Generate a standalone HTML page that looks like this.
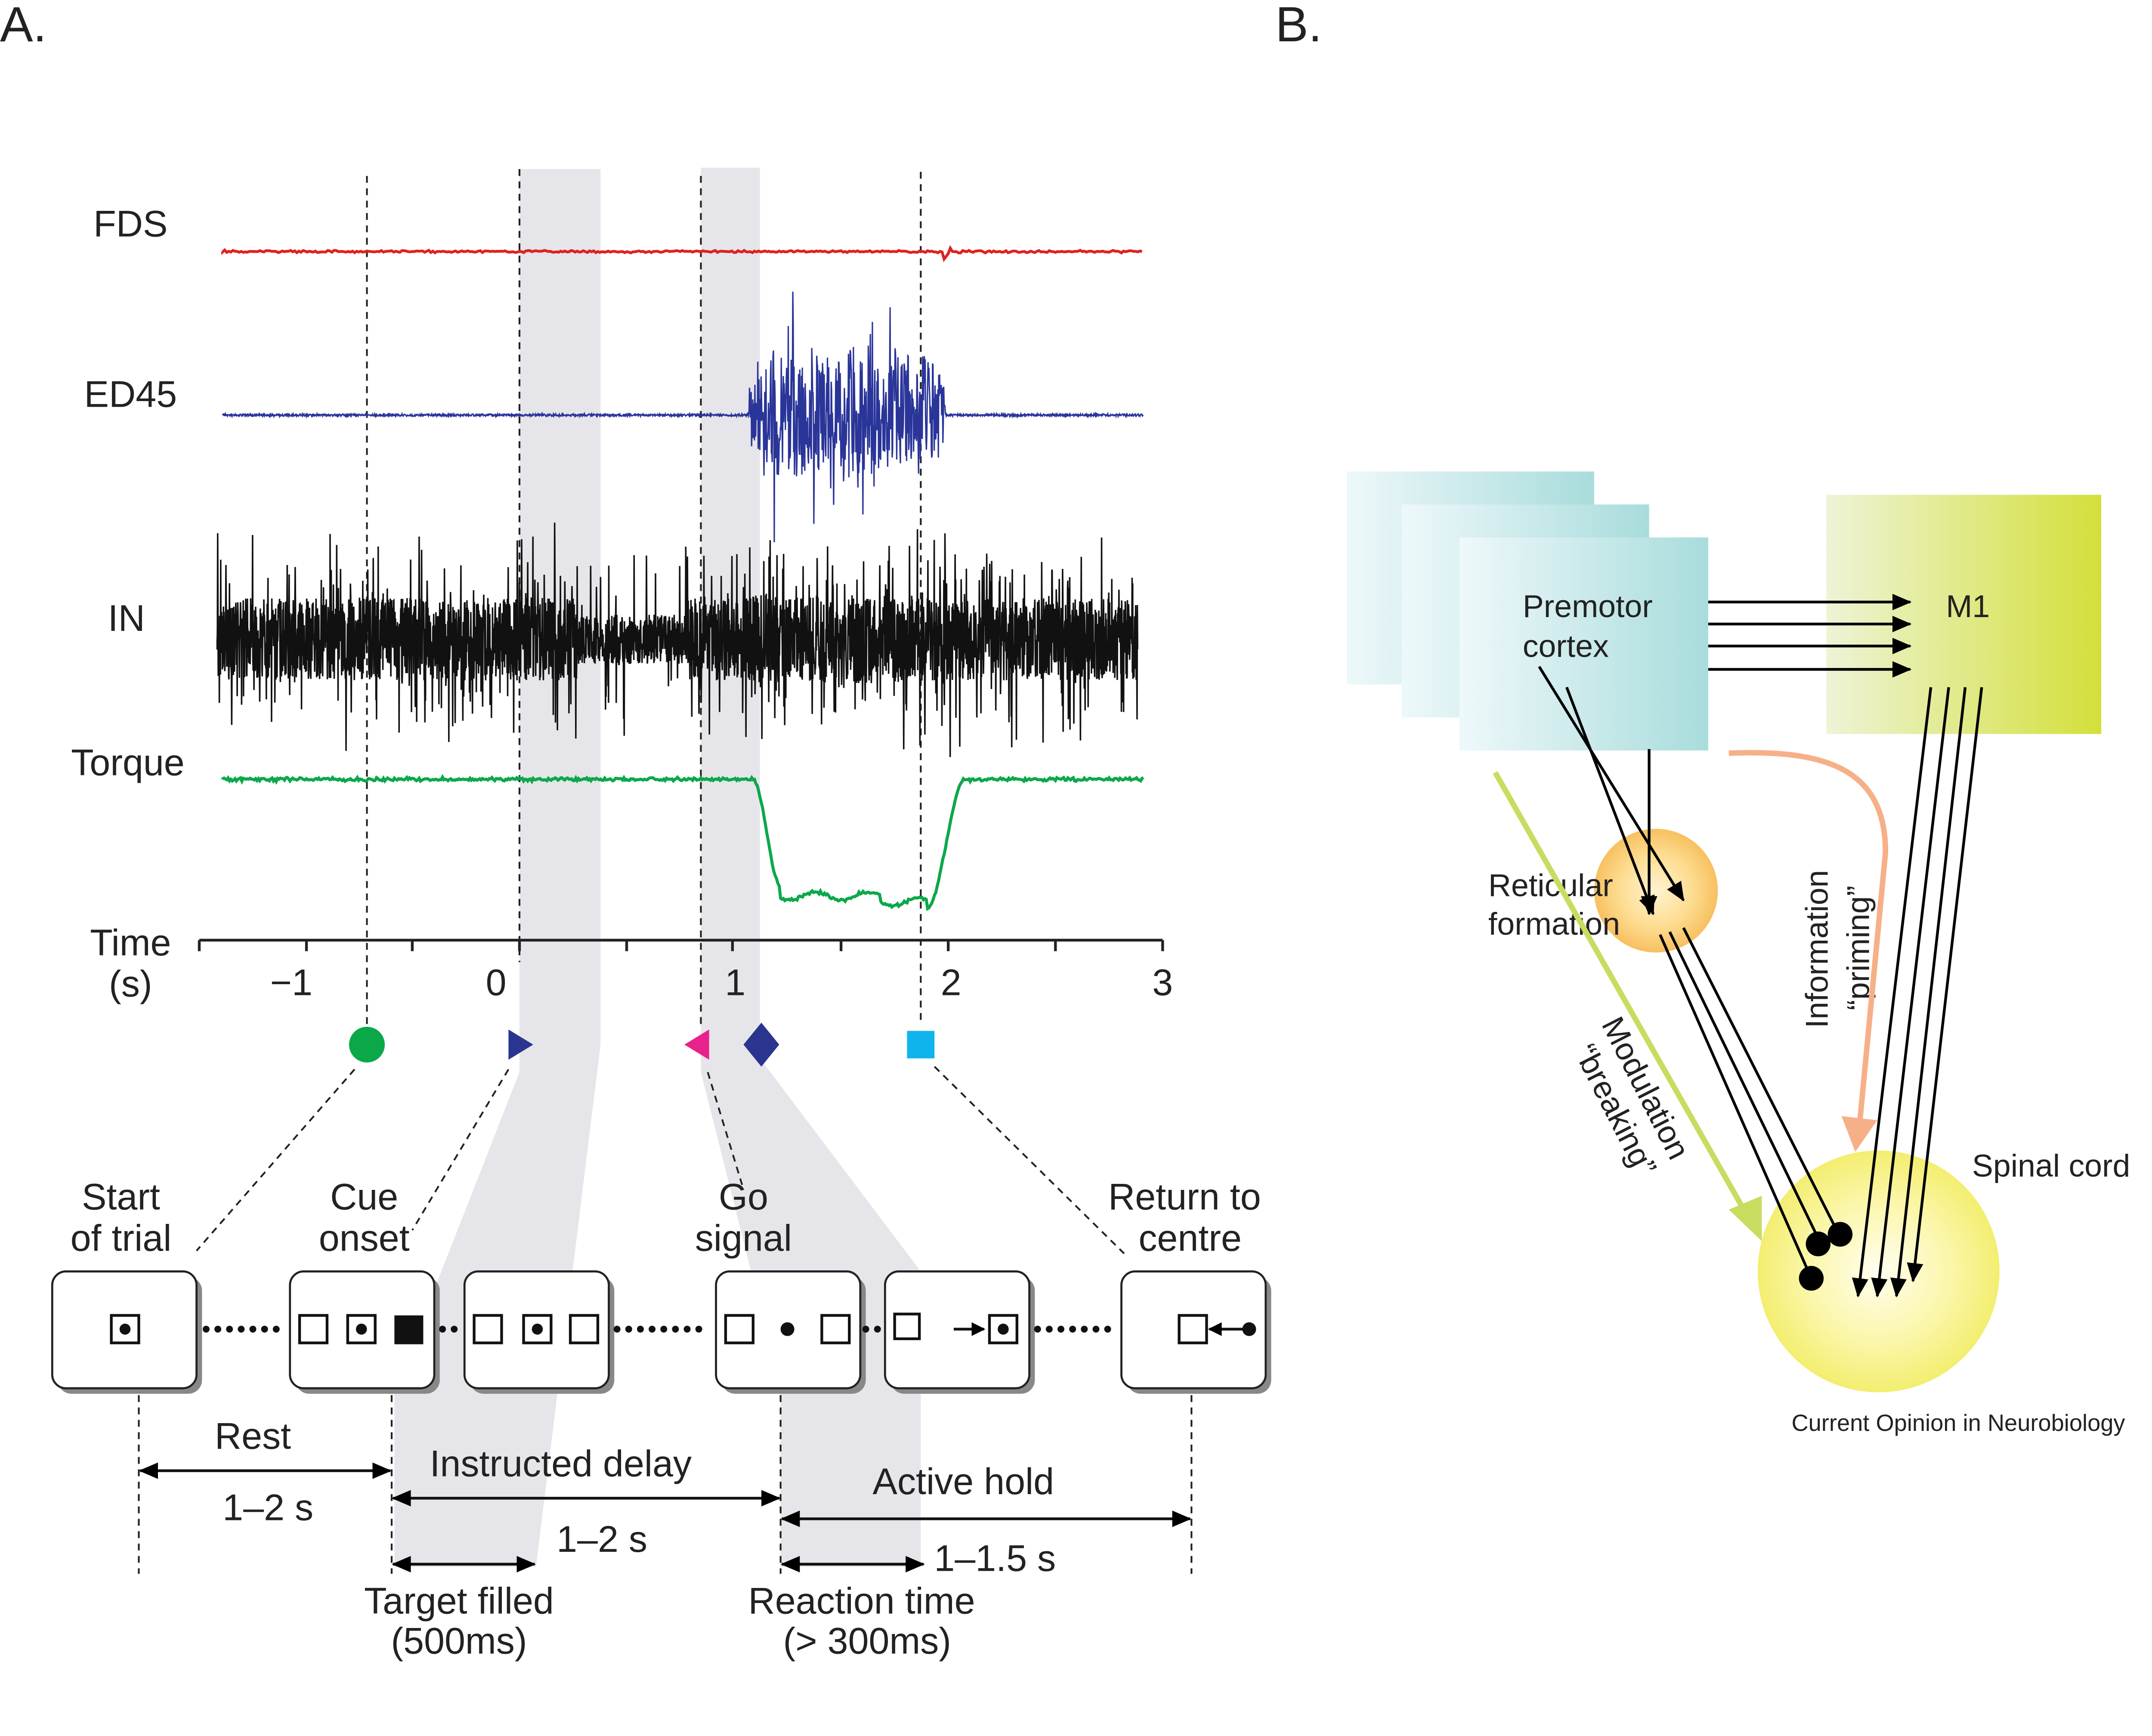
<!DOCTYPE html>
<html><head><meta charset="utf-8">
<style>
html,body{margin:0;padding:0;background:#fff;width:5195px;height:4034px;overflow:hidden}
svg{display:block}
text{font-family:"Liberation Sans",Arial,sans-serif;fill:#222}
</style></head><body>
<svg id="s" width="5195" height="4034" viewBox="0 0 1627 1263" preserveAspectRatio="none" xmlns="http://www.w3.org/2000/svg">
<defs>
<linearGradient id="cy" x1="0" x2="1" y1="0" y2="0"><stop offset="0" stop-color="#eef8fa"/><stop offset="1" stop-color="#a9dcdc"/></linearGradient>
<linearGradient id="m1" x1="0" x2="1" y1="0" y2="0"><stop offset="0" stop-color="#eef3d6"/><stop offset="1" stop-color="#d3e03a"/></linearGradient>
<radialGradient id="rf"><stop offset="0" stop-color="#fff3d0"/><stop offset="0.6" stop-color="#fddc90"/><stop offset="1" stop-color="#f7c060"/></radialGradient>
<radialGradient id="sc"><stop offset="0" stop-color="#fffef0"/><stop offset="0.6" stop-color="#fbf6a8"/><stop offset="1" stop-color="#f3ee70"/></radialGradient>
<marker id="ah" markerWidth="10" markerHeight="10" refX="9" refY="5" orient="auto" markerUnits="userSpaceOnUse"><path d="M0,0 L10,5 L0,10 z" fill="#000"/></marker>
<marker id="ah2" markerWidth="14" markerHeight="12" refX="13" refY="6" orient="auto-start-reverse" markerUnits="userSpaceOnUse"><path d="M0,0 L14,6 L0,12 z" fill="#000"/></marker>
</defs>
<text x="0" y="30" font-size="36">A.</text>
<text x="928" y="30" font-size="36">B.</text>
<polygon points="378,123 437,123 437,760 390,1140 287,1140 287,1012 378,780" fill="#e6e6ea"/>
<polygon points="510,122 553,122 553,770 670,925 670,1140 568,1140 568,1010 510,780" fill="#e6e6ea"/>
<g stroke="#222" stroke-width="1.3" stroke-dasharray="5,4" fill="none">
<line x1="267" y1="128" x2="267" y2="745"/><line x1="378" y1="123" x2="378" y2="700"/>
<line x1="510" y1="128" x2="510" y2="745"/><line x1="670" y1="125" x2="670" y2="745"/>
<line x1="258" y1="778" x2="143" y2="910"/><line x1="370" y1="778" x2="300" y2="895"/>
<line x1="515" y1="780" x2="540" y2="862"/><line x1="680" y1="776" x2="818" y2="912"/>
<line x1="101" y1="1015" x2="101" y2="1145"/><line x1="285" y1="1015" x2="285" y2="1145"/>
<line x1="568" y1="1015" x2="568" y2="1145"/><line x1="867" y1="1015" x2="867" y2="1145"/>
</g>
<g font-size="27" text-anchor="middle">
<text x="95" y="172">FDS</text><text x="95" y="296">ED45</text><text x="92" y="459">IN</text><text x="93" y="564">Torque</text>
<text x="95" y="695">Time</text><text x="95" y="725">(s)</text>
<text x="212" y="724">−1</text><text x="361" y="724">0</text><text x="535" y="724">1</text><text x="692" y="724">2</text><text x="846" y="724">3</text>
</g>
<g id="sig"></g>
<g stroke="#222" stroke-width="2"><line x1="145" y1="684" x2="846" y2="684"/>
<line x1="145" y1="684" x2="145" y2="692"/><line x1="223" y1="684" x2="223" y2="692"/><line x1="300" y1="684" x2="300" y2="692"/><line x1="378" y1="684" x2="378" y2="692"/><line x1="456" y1="684" x2="456" y2="692"/><line x1="533" y1="684" x2="533" y2="692"/><line x1="612" y1="684" x2="612" y2="692"/><line x1="690" y1="684" x2="690" y2="692"/><line x1="768" y1="684" x2="768" y2="692"/><line x1="846" y1="684" x2="846" y2="692"/></g>
<circle cx="267" cy="760" r="13" fill="#0ba84a"/>
<polygon points="370,749 388,760 370,771" fill="#2a3590"/>
<polygon points="516,749 498,760 516,771" fill="#e8228a"/>
<polygon points="554,744 567,760 554,776 541,760" fill="#2a3590"/>
<rect x="660" y="750" width="20" height="20" fill="#10b4ec"/>
<g font-size="27" text-anchor="middle">
<text x="88" y="880">Start</text><text x="88" y="910">of trial</text>
<text x="265" y="880">Cue</text><text x="265" y="910">onset</text>
<text x="541" y="880">Go</text><text x="541" y="910">signal</text>
<text x="862" y="880">Return to</text><text x="866" y="910">centre</text>
</g>
<g>
<g fill="#888"><rect x="42" y="929" width="105" height="85" rx="10"/><rect x="215" y="929" width="105" height="85" rx="10"/><rect x="342" y="929" width="105" height="85" rx="10"/><rect x="525" y="929" width="105" height="85" rx="10"/><rect x="648" y="929" width="105" height="85" rx="10"/><rect x="820" y="929" width="105" height="85" rx="10"/></g>
<g fill="#fff" stroke="#222" stroke-width="1.5"><rect x="38" y="925" width="105" height="85" rx="10"/><rect x="211" y="925" width="105" height="85" rx="10"/><rect x="338" y="925" width="105" height="85" rx="10"/><rect x="521" y="925" width="105" height="85" rx="10"/><rect x="644" y="925" width="105" height="85" rx="10"/><rect x="816" y="925" width="105" height="85" rx="10"/></g>
<g fill="none" stroke="#111" stroke-width="2">
<rect x="81" y="957" width="20" height="20"/><rect x="218" y="957" width="20" height="20"/><rect x="253" y="957" width="20" height="20"/>
<rect x="345" y="957" width="20" height="20"/><rect x="381" y="957" width="20" height="20"/><rect x="415" y="957" width="20" height="20"/>
<rect x="528" y="957" width="20" height="20"/><rect x="598" y="957" width="20" height="20"/>
<rect x="651" y="956" width="18" height="18"/><rect x="720" y="957" width="20" height="20"/><rect x="858" y="957" width="20" height="20"/>
<line x1="694" y1="967" x2="716" y2="967" marker-end="url(#ah)"/><line x1="906" y1="967" x2="880" y2="967" marker-end="url(#ah)"/>
</g>
<rect x="287" y="957" width="21" height="21" fill="#111"/>
<g fill="#111"><circle cx="91" cy="967" r="4"/><circle cx="263" cy="967" r="4"/><circle cx="391" cy="967" r="4"/><circle cx="573" cy="967" r="5"/><circle cx="730" cy="967" r="4"/><circle cx="909" cy="967" r="5"/></g>
<g stroke="#111" stroke-width="5" stroke-linecap="round" stroke-dasharray="0,8.5"><line x1="150" y1="967" x2="206" y2="967"/><line x1="322" y1="967" x2="334" y2="967"/><line x1="449" y1="967" x2="516" y2="967"/><line x1="630" y1="967" x2="640" y2="967"/><line x1="755" y1="967" x2="812" y2="967"/></g>
</g>
<g stroke="#111" stroke-width="2" fill="none">
<line x1="102" y1="1070" x2="284" y2="1070" marker-start="url(#ah2)" marker-end="url(#ah2)"/>
<line x1="286" y1="1090" x2="567" y2="1090" marker-start="url(#ah2)" marker-end="url(#ah2)"/>
<line x1="286" y1="1138" x2="389" y2="1138" marker-start="url(#ah2)" marker-end="url(#ah2)"/>
<line x1="569" y1="1105" x2="866" y2="1105" marker-start="url(#ah2)" marker-end="url(#ah2)"/>
<line x1="569" y1="1138" x2="672" y2="1138" marker-start="url(#ah2)" marker-end="url(#ah2)"/>
</g>
<g font-size="27" text-anchor="middle">
<text x="184" y="1054">Rest</text><text x="195" y="1106">1–2 s</text>
<text x="408" y="1074">Instructed delay</text><text x="438" y="1129">1–2 s</text>
<text x="334" y="1174">Target filled</text><text x="334" y="1203">(500ms)</text>
<text x="701" y="1087">Active hold</text><text x="724" y="1143">1–1.5 s</text>
<text x="627" y="1174">Reaction time</text><text x="631" y="1203">(&gt; 300ms)</text>
</g>
<rect x="980" y="343" width="180" height="155" fill="url(#cy)"/>
<rect x="1020" y="367" width="180" height="155" fill="url(#cy)"/>
<rect x="1062" y="391" width="181" height="155" fill="url(#cy)"/>
<rect x="1329" y="360" width="200" height="174" fill="url(#m1)"/>
<circle cx="1205" cy="648" r="45" fill="url(#rf)"/>
<circle cx="1367" cy="925" r="88" fill="url(#sc)"/>
<g font-size="23">
<text x="1108" y="449">Premotor</text><text x="1108" y="478">cortex</text>
<text x="1416" y="449">M1</text>
<text x="1083" y="652">Reticular</text><text x="1083" y="680">formation</text>
<text x="1435" y="856">Spinal cord</text>
<text x="1425" y="1041" font-size="17" text-anchor="middle">Current Opinion in Neurobiology</text>
<text transform="translate(1330,748) rotate(-90)">Information</text>
<text transform="translate(1360,735) rotate(-90)">“priming”</text>
<text transform="translate(1165,745) rotate(63)">Modulation</text>
<text transform="translate(1145,765) rotate(63)">“breaking”</text>
</g>
<path d="M1258,548 C1330,545 1372,560 1372,620 L1352,830" fill="none" stroke="#f6b088" stroke-width="4"/>
<polygon points="1340,812 1366,815 1350,838" fill="#f6b088"/>
<line x1="1088" y1="562" x2="1270" y2="882" stroke="#c8dc60" stroke-width="4"/>
<polygon points="1258,880 1282,870 1282,903" fill="#c8dc60"/>
<g stroke="#000" stroke-width="2" fill="none">
<line x1="1243" y1="438" x2="1390" y2="438" marker-end="url(#ah2)"/>
<line x1="1243" y1="454" x2="1390" y2="454" marker-end="url(#ah2)"/>
<line x1="1243" y1="470" x2="1390" y2="470" marker-end="url(#ah2)"/>
<line x1="1243" y1="487" x2="1390" y2="487" marker-end="url(#ah2)"/>
<line x1="1120" y1="485" x2="1225" y2="655" marker-end="url(#ah2)"/>
<line x1="1140" y1="500" x2="1203" y2="665" marker-end="url(#ah2)"/>
<line x1="1200" y1="545" x2="1200" y2="665" marker-end="url(#ah2)"/>
<line x1="1208" y1="680" x2="1318" y2="930"/>
<line x1="1215" y1="678" x2="1325" y2="905"/>
<line x1="1225" y1="675" x2="1338" y2="898"/>
<line x1="1405" y1="500" x2="1352" y2="943" marker-end="url(#ah2)"/>
<line x1="1418" y1="500" x2="1366" y2="943" marker-end="url(#ah2)"/>
<line x1="1430" y1="500" x2="1380" y2="943" marker-end="url(#ah2)"/>
<line x1="1442" y1="500" x2="1392" y2="932" marker-end="url(#ah2)"/>
</g>
<g fill="#000"><circle cx="1318" cy="930" r="9"/><circle cx="1323" cy="905" r="9"/><circle cx="1339" cy="898" r="9"/></g>
</svg>
<script>
(function(){
var seed=12345;function r(){seed=(seed*16807)%2147483647;return seed/2147483647;}
function g(){return (r()+r()+r()-1.5);}
var out="";
var d="M162,183";for(var x=162;x<=832;x+=1.5){var a=0.8;if(x>686&&x<692)a=6;d+=" L"+x+","+(183+g()*a).toFixed(1);}
out+='<path d="'+d+'" stroke="#e02020" stroke-width="2" fill="none"/>';
d="M162,302";for(x=162;x<=832;x+=0.3){var a=0.8;if(x>545&&x<688){a=30+r()*25;if(r()<0.08)a=70+r()*30;if(x<556||x>680)a*=0.6;}d+=" L"+x.toFixed(1)+","+(302+(r()*2-1)*a).toFixed(1);}
out+='<path d="'+d+'" stroke="#2a3599" stroke-width="1" fill="none"/>';
d="M158,465";for(x=158;x<=828;x+=0.2){var a=30;var sp=0.16;if(x>420&&x<500){a=18;sp=0.08;}if(x>540&&x<690){a=32;sp=0.2;}if(r()<sp)a=50+r()*38;d+=" L"+x.toFixed(2)+","+(465+(r()*2-1)*a).toFixed(1);}
out+='<path d="'+d+'" stroke="#111" stroke-width="1.1" fill="none"/>';
function tq(x){if(x<548)return 567;if(x<568){var t=(x-548)/20;return 567+78*(t*t*(3-2*t));}if(x<675)return 652+3*Math.sin(x/6)+(x>640?4:0);if(x<702){var t=(x-675)/27;return 660-93*(t*t*(3-2*t));}return 567;}
d="M162,567";for(x=162;x<=832;x+=1){d+=" L"+x+","+(tq(x)+g()*1.2).toFixed(1);}
out+='<path d="'+d+'" stroke="#0ba84a" stroke-width="2.2" fill="none"/>';
document.getElementById("sig").innerHTML=out;
})();
</script>
</body></html>
